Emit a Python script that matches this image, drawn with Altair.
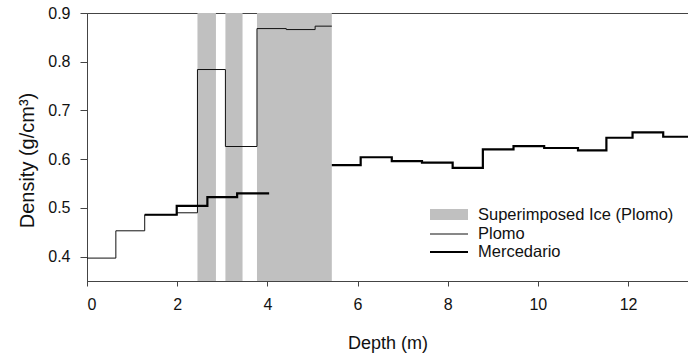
import altair as alt
import pandas as pd

# Superimposed ice bands (Plomo)
ice_start = [2.45, 3.07, 3.77]
ice_end = [2.86, 3.45, 5.43]

# Plomo (thin step line): depth at start of each layer, density
plomo_depth = [0.0, 0.64, 1.28, 1.99, 2.45, 3.07, 3.77, 4.42, 5.06, 5.43]
plomo_density = [0.397, 0.453, 0.486, 0.490, 0.784, 0.626, 0.868, 0.866, 0.873, 0.873]

# Mercedario (thick step line), two segments
merc1_depth = [1.28, 1.99, 2.67, 3.33, 4.04]
merc1_density = [0.486, 0.504, 0.522, 0.530, 0.530]
merc2_depth = [5.43, 6.07, 6.76, 7.43, 8.11, 8.78, 9.46, 10.14, 10.89, 11.52, 12.10, 12.78, 13.33]
merc2_density = [0.588, 0.604, 0.596, 0.593, 0.582, 0.620, 0.627, 0.623, 0.618, 0.644, 0.655, 0.646, 0.646]

legend_labels = ["Superimposed Ice (Plomo)", "Plomo", "Mercedario"]

W, H = 601, 268
FONT = "Liberation Sans"

xs = alt.Scale(domain=[0, 13.33], nice=False, zero=False)
ys = alt.Scale(domain=[0.35, 0.9], nice=False, zero=False)

ice_df = pd.DataFrame({"start": ice_start, "end": ice_end})
plomo_df = pd.DataFrame({"depth": plomo_depth, "density": plomo_density})
merc_df = pd.concat([
    pd.DataFrame({"depth": merc1_depth, "density": merc1_density, "seg": "a"}),
    pd.DataFrame({"depth": merc2_depth, "density": merc2_density, "seg": "b"}),
])

x_axis = alt.Axis(
    values=[0, 2, 4, 6, 8, 10, 12], title="Depth (m)", grid=False,
    tickSize=5, labelPadding=10, labelFontSize=16, titleFontSize=18,
    titleBaseline="alphabetic", titleY=67, titleFontWeight="normal",
    labelFont=FONT, titleFont=FONT, domainColor="#444", tickColor="#444",
    labelColor="#111", titleColor="#111",
)
y_axis = alt.Axis(
    values=[0.4, 0.5, 0.6, 0.7, 0.8, 0.9], title="Density (g/cm³)", grid=False,
    tickSize=7, labelPadding=10, labelFontSize=16, titleFontSize=20,
    titleBaseline="alphabetic", titleX=-54, titleY=147, titleAngle=-90,
    titleFontWeight="normal", format=".1f",
    labelFont=FONT, titleFont=FONT, domainColor="#444", tickColor="#444",
    labelColor="#111", titleColor="#111",
)

ice = alt.Chart(ice_df).mark_rect(color="#c0c0c0").encode(
    x=alt.X("start:Q", scale=xs, axis=x_axis),
    x2="end:Q",
    y=alt.value(0),
    y2=alt.value(H),
)

plomo = alt.Chart(plomo_df).mark_line(
    interpolate="step-after", color="#111", strokeWidth=1
).encode(
    x=alt.X("depth:Q", scale=xs, axis=x_axis),
    y=alt.Y("density:Q", scale=ys, axis=y_axis),
)

merc = alt.Chart(merc_df).mark_line(
    interpolate="step-after", color="#000", strokeWidth=2.2
).encode(
    x=alt.X("depth:Q", scale=xs, axis=x_axis),
    y=alt.Y("density:Q", scale=ys, axis=y_axis),
    detail="seg:N",
)

# Manual legend
leg_rect = alt.Chart(pd.DataFrame({"l": [legend_labels[0]]})).mark_rect(color="#c0c0c0").encode(
    x=alt.value(343), x2=alt.value(381), y=alt.value(196), y2=alt.value(207)
)
leg_plomo = alt.Chart(pd.DataFrame({"l": [legend_labels[1]]})).mark_rule(color="#111", strokeWidth=1).encode(
    x=alt.value(343), x2=alt.value(381), y=alt.value(221)
)
leg_merc = alt.Chart(pd.DataFrame({"l": [legend_labels[2]]})).mark_rule(color="#000", strokeWidth=2.2).encode(
    x=alt.value(343), x2=alt.value(381), y=alt.value(239)
)
leg_text = alt.Chart(pd.DataFrame({"l": legend_labels, "yy": [201.5, 221, 239]})).mark_text(
    align="left", baseline="middle", font=FONT, fontSize=16.5, color="#111"
).encode(
    x=alt.value(391), y=alt.Y("yy:Q", scale=None), text="l:N"
)

chart = alt.layer(ice, plomo, merc, leg_rect, leg_plomo, leg_merc, leg_text).properties(
    width=W, height=H,
    padding={"left": 87, "top": 13, "right": 0, "bottom": 77},
    autosize=alt.AutoSizeParams(type="none"),
).configure_view(stroke="#444", strokeWidth=1)

chart.save("out.html", embed_options={"renderer": "svg", "actions": False})
